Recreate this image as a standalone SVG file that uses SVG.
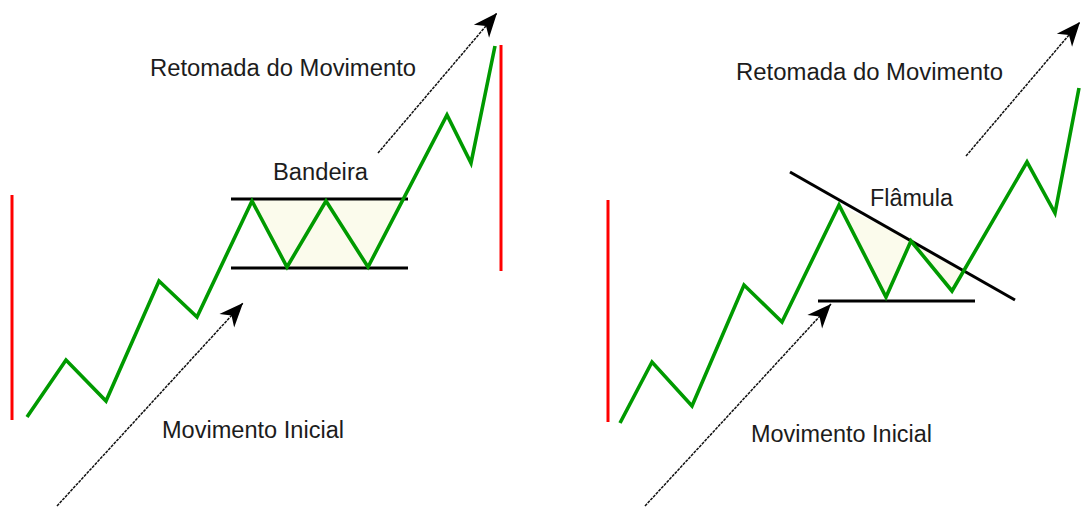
<svg xmlns="http://www.w3.org/2000/svg" width="1083" height="508" viewBox="0 0 1083 508">
<style>
.red{stroke:#ff0000;stroke-width:3;fill:none}
.green{stroke:#009a00;stroke-width:3.6;fill:none;stroke-linejoin:miter}
.blk{stroke:#000;stroke-width:3;fill:none}
.fill{fill:#fbfbec;stroke:none}
.arr{stroke:#111;stroke-width:1.5;stroke-dasharray:3 1;fill:none;marker-end:url(#ah)}
text{font-family:"Liberation Sans",Arial,sans-serif;font-size:23px;fill:#1c1c1c}
</style>
<defs>
<marker id="ah" markerUnits="userSpaceOnUse" markerWidth="30" markerHeight="30" refX="0" refY="0" viewBox="-26 -13 30 26" orient="auto" overflow="visible">
<path d="M0,0 L-24,-10 L-17,0 L-24,10 Z" fill="#000"/>
</marker>
</defs>
<rect width="1083" height="508" fill="#fff"/>
<g id="left-chart">
<g id="left-flag-fill"><polygon class="fill" points="252,199 404,199 368,268 287,268"/></g>
<g id="left-red-bars">
<line class="red" x1="12" y1="195" x2="12" y2="420"/>
<line class="red" x1="501" y1="45" x2="501" y2="271"/>
</g>
<g id="left-flag-lines">
<line class="blk" x1="231" y1="199" x2="408" y2="199"/>
<line class="blk" x1="231" y1="268" x2="408" y2="268"/>
</g>
<g id="left-price"><polyline class="green" points="27,417 66,360 106,401 159,281 197,317 252,201 287,267 326,201 368,267 447,115 471,163 495,46"/></g>
<g id="left-labels">
<text x="150" y="76" textLength="266" lengthAdjust="spacingAndGlyphs">Retomada do Movimento</text>
<text x="273" y="180" textLength="95" lengthAdjust="spacingAndGlyphs">Bandeira</text>
<text x="162" y="438" textLength="182" lengthAdjust="spacingAndGlyphs">Movimento Inicial</text>
</g>
</g>
<g id="right-chart">
<g id="right-pennant-fill">
<polygon class="fill" points="839,205 886,297 911,240"/>
<polygon class="fill" points="911,240 952,291 965,270"/>
</g>
<g id="right-red-bar"><line class="red" x1="608" y1="200" x2="608" y2="422"/></g>
<g id="right-pennant-lines">
<line class="blk" x1="790" y1="172" x2="1015" y2="300"/>
<line class="blk" x1="818" y1="301" x2="975" y2="301"/>
</g>
<g id="right-price"><polyline class="green" points="620,423 652,362 692,406 744,285 782,322 839,205 886,297 911,241 952,291 1027,162 1055,213 1079,88"/></g>
<g id="right-labels">
<text x="736" y="80" textLength="267" lengthAdjust="spacingAndGlyphs">Retomada do Movimento</text>
<text x="870" y="206" textLength="83" lengthAdjust="spacingAndGlyphs">Flâmula</text>
<text x="751" y="442" textLength="181" lengthAdjust="spacingAndGlyphs">Movimento Inicial</text>
</g>
</g>
<g id="connectors">
<line class="arr" x1="57" y1="506" x2="243" y2="303"/>
<line class="arr" x1="378" y1="153" x2="497" y2="13"/>
<line class="arr" x1="645" y1="506" x2="831" y2="304"/>
<line class="arr" x1="966" y1="156" x2="1080" y2="22"/>
</g>
</svg>
